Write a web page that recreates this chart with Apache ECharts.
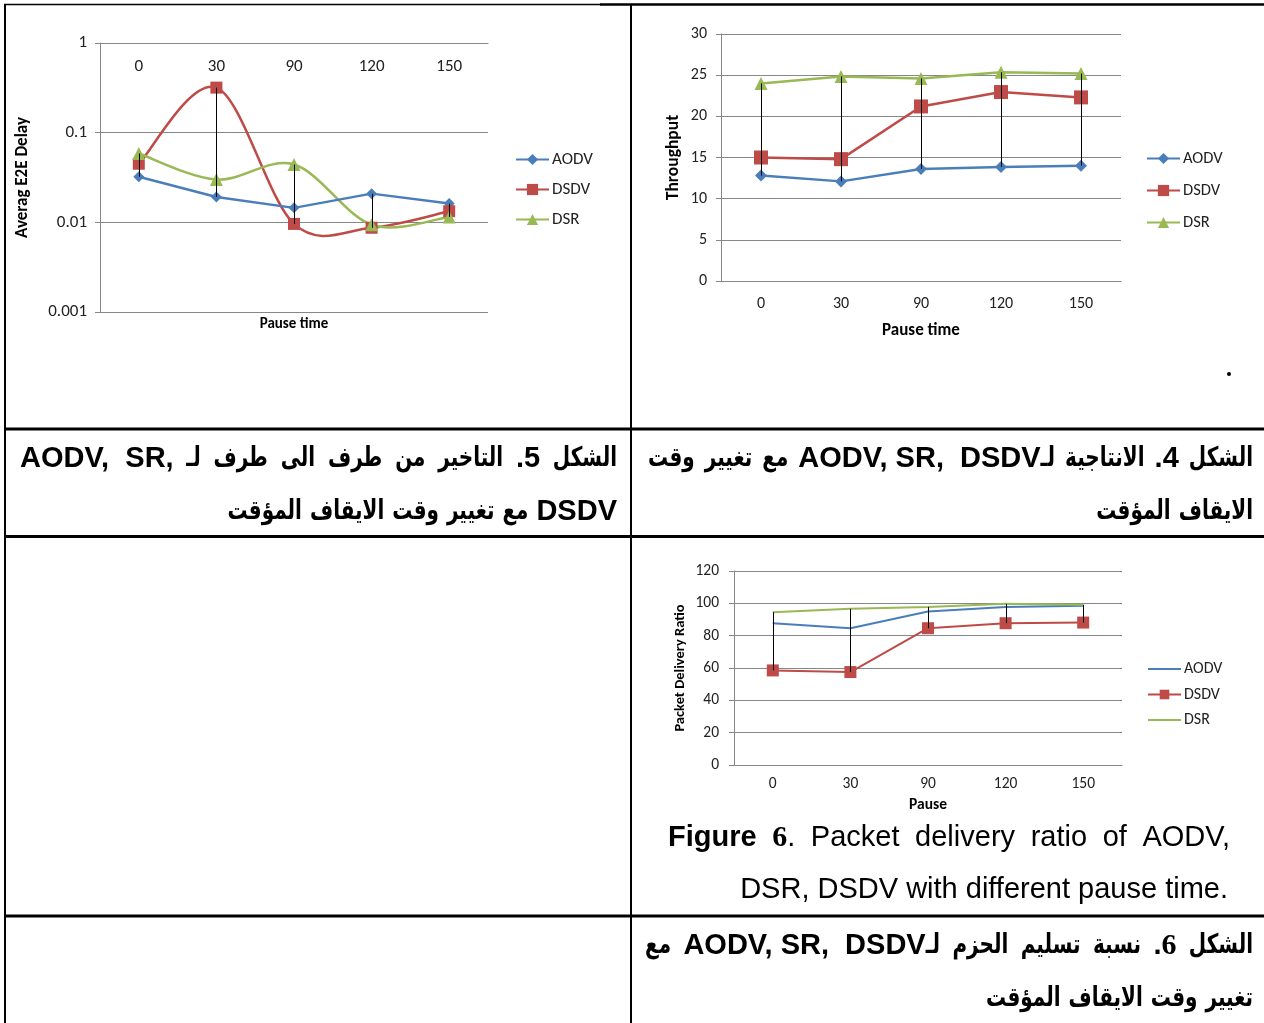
<!DOCTYPE html>
<html>
<head>
<meta charset="utf-8">
<script src="https://cdn.jsdelivr.net/npm/echarts@6/dist/echarts.min.js"></script>
<style>
  html, body { margin: 0; padding: 0; background: #fff; }
  #main { width: 1264px; height: 1023px; }
</style>
</head>
<body>
<div id="main"></div>
<script>
// ---- data ----
const pauseTimes = ['0', '30', '90', '120', '150'];
const protocols = ['AODV', 'DSDV', 'DSR'];

// Fig. 5: average end-to-end delay (log scale)
const delayAODV = [0.0322, 0.0192, 0.0145, 0.0209, 0.0162];
const delayDSDV = [0.045, 0.318, 0.0096, 0.0087, 0.0133];
const delayDSR  = [0.0586, 0.030, 0.0441, 0.0094, 0.0115];
const delayTicks = [0.001, 0.01, 0.1, 1];
const delayTickLabels = ['0.001', '0.01', '0.1', '1'];

// Fig. 4: throughput
const thrAODV = [12.8, 12.1, 13.6, 13.85, 14.0];
const thrDSDV = [15.0, 14.8, 21.2, 22.95, 22.3];
const thrDSR  = [24.0, 24.85, 24.6, 25.35, 25.2];

// Fig. 6: packet delivery ratio
const pdrAODV = [87.7, 84.6, 94.9, 97.7, 98.5];
const pdrDSDV = [58.5, 57.5, 84.6, 87.7, 88.1];
const pdrDSR  = [94.5, 96.6, 97.7, 99.7, 99.1];

// ---- styling ----
const C_AODV = '#4A7EBB', C_DSDV = '#BE4B48', C_DSR = '#98B954';
const GRIDC = '#878787';
const CF = 'Carlito, Lato, sans-serif';
const LB = 'bold 29px "Liberation Sans", Arial, sans-serif';
const LR = '29px "Liberation Sans", Arial, sans-serif';
const AF = 'bold 27px "DejaVu Sans", sans-serif';
const AR_SCALE = 0.74;
const SF = 'bold 30px "Liberation Serif", "DejaVu Serif", serif';
const rtl = s => '\u202B' + s + '\u202C';

// ---- caption layout ----
const mctx = document.createElement('canvas').getContext('2d');
function tw(t, font) { mctx.font = font; return mctx.measureText(t).width; }
// Arabic word, bold Latin, regular Latin, number inside Arabic text, serif digit
const A = (t, glue) => ({ t: rtl(t), font: AF, sx: AR_SCALE, glue: !!glue });
const B = (t, glue) => ({ t: t, font: LB, sx: 1, glue: !!glue });
const R = (t, glue) => ({ t: t, font: LR, sx: 1, glue: !!glue });
const N = (t, glue) => ({ t: rtl(t), font: LB, sx: 1, glue: !!glue });
const S = (t, glue) => ({ t: t, font: SF, sx: 1, glue: !!glue });

// Lays words out on one line; justified lines spread the gaps between xL and xR,
// others use a normal word space and hang from the reading-start edge.
function layoutLine(segs, xL, xR, y, isRtl, justify) {
  const ws = segs.map(s => tw(s.t, s.font) * s.sx);
  const total = ws.reduce((a, b) => a + b, 0);
  const nGaps = segs.filter((s, i) => i > 0 && !s.glue).length;
  const gap = justify ? (xR - xL - total) / nGaps : 8;
  const out = [];
  let x = isRtl ? xR : xL;
  segs.forEach((s, i) => {
    if (i > 0 && !s.glue) x += isRtl ? -gap : gap;
    out.push({ type: 'text', x: x, y: y, scaleX: s.sx,
      style: { text: s.t, font: s.font, fill: '#000',
        textAlign: isRtl ? 'right' : 'left', textVerticalAlign: 'middle' } });
    x += isRtl ? -ws[i] : ws[i];
  });
  return out;
}

// ---- table rules ----
const rules = [
  { type: 'line', shape: { x1: 4, y1: 4.5, x2: 601, y2: 4.5 }, style: { stroke: '#000', lineWidth: 1.5 } },
  { type: 'line', shape: { x1: 600, y1: 4.5, x2: 1264, y2: 4.5 }, style: { stroke: '#000', lineWidth: 2.5 } },
  { type: 'line', shape: { x1: 5, y1: 4, x2: 5, y2: 1023 }, style: { stroke: '#000', lineWidth: 2 } },
  { type: 'line', shape: { x1: 631, y1: 4, x2: 631, y2: 1023 }, style: { stroke: '#000', lineWidth: 2 } },
  { type: 'line', shape: { x1: 4, y1: 429, x2: 1264, y2: 429 }, style: { stroke: '#000', lineWidth: 3 } },
  { type: 'line', shape: { x1: 4, y1: 536.5, x2: 1264, y2: 536.5 }, style: { stroke: '#000', lineWidth: 3 } },
  { type: 'line', shape: { x1: 4, y1: 916, x2: 1264, y2: 916 }, style: { stroke: '#000', lineWidth: 3 } },
  { type: 'circle', shape: { cx: 1229, cy: 374, r: 2 }, style: { fill: '#000' } }
];

const captions = [].concat(
  // Fig. 5 caption
  layoutLine([A('الشكل'), N('5.'), A('التاخير'), A('من'), A('طرف'), A('الى'), A('طرف'), A('لـ'),
              B('AODV,  SR,')], 20, 617, 459, true, true),
  layoutLine([B('DSDV'), A('مع'), A('تغيير'), A('وقت'), A('الايقاف'), A('المؤقت')], 0, 617, 512, true, false),
  // Fig. 4 caption
  layoutLine([A('الشكل'), N('4.'), A('الانتاجية'), A('لـ'), B('AODV, SR,  DSDV', true),
              A('مع'), A('تغيير'), A('وقت')], 648, 1253, 459, true, true),
  layoutLine([A('الايقاف'), A('المؤقت')], 0, 1253, 512, true, false),
  // Fig. 6 English caption
  layoutLine([B('Figure'), S('6'), R('.', true), R('Packet'), R('delivery'), R('ratio'), R('of'), R('AODV,')],
             668, 1230, 838, false, true),
  [{ type: 'text', x: 1228, y: 890, style: { text: 'DSR, DSDV with different pause time.', font: LR,
     fill: '#000', textAlign: 'right', textVerticalAlign: 'middle' } }],
  // Fig. 6 Arabic caption
  layoutLine([A('الشكل'), S('6'), B('.', true), A('نسبة'), A('تسليم'), A('الحزم'), A('لـ'),
              B('AODV, SR,  DSDV', true), A('مع')], 645, 1253, 946, true, true),
  layoutLine([A('تغيير'), A('وقت'), A('الايقاف'), A('المؤقت')], 0, 1253, 999, true, false),
  // x-axis title of the delay chart (its category axis sits on top)
  [{ type: 'text', x: 294, y: 324, style: { text: 'Pause time', font: 'bold 15px ' + CF,
     fill: '#000', textAlign: 'center', textVerticalAlign: 'middle' } }]
);

// ---- high-low connector across the three protocols at each pause time ----
function hiLo(idx, arrays, name) {
  const data = pauseTimes.map((c, i) => {
    const v = arrays.map(a => a[i]);
    return [i, Math.min.apply(null, v), Math.max.apply(null, v)];
  });
  return {
    type: 'custom', name: name, xAxisIndex: idx, yAxisIndex: idx, z: 5, silent: true,
    data: data, encode: { x: 0, y: [1, 2] },
    renderItem: function (params, api) {
      const lo = api.coord([api.value(0), api.value(1)]);
      const hi = api.coord([api.value(0), api.value(2)]);
      const x = Math.round(lo[0]) + 0.5;
      return { type: 'line', shape: { x1: x, y1: lo[1], x2: x, y2: hi[1] },
               style: { stroke: '#000', lineWidth: 1 } };
    }
  };
}

// ---- smoothed curve (cubic Bezier, tangent = 1/6 of neighbour chord) ----
function smoothCurve(idx, values, color, name) {
  const n = values.length;
  return {
    type: 'custom', name: name, xAxisIndex: idx, yAxisIndex: idx, z: 2, silent: true,
    data: values.map((v, i) => [i, v]), encode: { x: 0, y: 1 },
    renderItem: function (params, api) {
      const i = params.dataIndex;
      if (i >= n - 1) return;
      const P = j => { const k = Math.max(0, Math.min(n - 1, j)); return api.coord([k, values[k]]); };
      const p0 = P(i - 1), p1 = P(i), p2 = P(i + 1), p3 = P(i + 2);
      return {
        type: 'bezierCurve',
        shape: { x1: p1[0], y1: p1[1], x2: p2[0], y2: p2[1],
                 cpx1: p1[0] + (p2[0] - p0[0]) / 6, cpy1: p1[1] + (p2[1] - p0[1]) / 6,
                 cpx2: p2[0] - (p3[0] - p1[0]) / 6, cpy2: p2[1] - (p3[1] - p1[1]) / 6 },
        style: { stroke: color, lineWidth: 2.5, fill: 'none' }
      };
    }
  };
}

function lineSeries(idx, proto, metric, data, color, extra) {
  return Object.assign({
    type: 'line', name: proto + ' ' + metric, xAxisIndex: idx, yAxisIndex: idx,
    data: data, z: 3,
    lineStyle: { color: color, width: 2.5 },
    itemStyle: { color: color },
    emphasis: { disabled: true }
  }, extra);
}

const catAxisBase = {
  type: 'category', data: pauseTimes, boundaryGap: true,
  axisLine: { lineStyle: { color: GRIDC, width: 1 } },
  axisTick: { show: false }
};
const valSplit = { lineStyle: { color: GRIDC, width: 1 } };

function legend(metric, left, top, gap, fontSize, itemH, dataItems) {
  return {
    orient: 'vertical', left: left, top: top, itemGap: gap, padding: 0,
    itemWidth: 33, itemHeight: itemH,
    data: dataItems || protocols.map(p => p + ' ' + metric),
    formatter: n => n.split(' ')[0],
    textStyle: { fontFamily: CF, fontSize: fontSize, color: '#222', lineHeight: itemH, padding: [0, 0, 0, -2] },
    selectedMode: false
  };
}

const option = {
  animation: false,
  backgroundColor: '#fff',
  grid: [
    { left: 100, top: 43, width: 388, height: 269 },
    { left: 721, top: 34, width: 400, height: 247 },
    { left: 734, top: 571, width: 388, height: 194 }
  ],
  xAxis: [
    Object.assign({}, catAxisBase, { gridIndex: 0, position: 'top',
      axisLabel: { inside: true, margin: 15, fontFamily: CF, fontSize: 17, color: '#222' } }),
    Object.assign({}, catAxisBase, { gridIndex: 1,
      axisLabel: { margin: 15, fontFamily: CF, fontSize: 16, color: '#222' },
      name: 'Pause time', nameLocation: 'middle', nameGap: 41,
      nameTextStyle: { fontFamily: CF, fontSize: 17, fontWeight: 'bold', color: '#000' } }),
    Object.assign({}, catAxisBase, { gridIndex: 2,
      axisLabel: { margin: 11, fontFamily: CF, fontSize: 15.5, color: '#222' },
      name: 'Pause', nameLocation: 'middle', nameGap: 32,
      nameTextStyle: { fontFamily: CF, fontSize: 15.5, fontWeight: 'bold', color: '#000' } })
  ],
  yAxis: [
    { type: 'log', gridIndex: 0, logBase: 10, min: delayTicks[0], max: delayTicks[delayTicks.length - 1],
      axisLine: { show: true, lineStyle: { color: GRIDC } },
      axisTick: { show: true, length: 5, lineStyle: { color: GRIDC } },
      splitLine: valSplit,
      axisLabel: { margin: 13, fontFamily: CF, fontSize: 17, color: '#222',
        formatter: v => {
          let best = 0;
          delayTicks.forEach((t, i) => {
            if (Math.abs(Math.log10(t) - Math.log10(v)) < Math.abs(Math.log10(delayTicks[best]) - Math.log10(v))) best = i;
          });
          return delayTickLabels[best];
        } },
      name: 'Averag E2E Delay', nameLocation: 'middle', nameGap: 69, nameRotate: 90,
      nameTextStyle: { fontFamily: CF, fontSize: 17, fontWeight: 'bold', color: '#000' } },
    { type: 'value', gridIndex: 1, min: 0, max: 30, interval: 5,
      axisLine: { show: true, lineStyle: { color: GRIDC } },
      axisTick: { show: true, length: 5, lineStyle: { color: GRIDC } },
      splitLine: valSplit,
      axisLabel: { margin: 14, fontFamily: CF, fontSize: 16, color: '#222' },
      name: 'Throughput', nameLocation: 'middle', nameGap: 38, nameRotate: 90,
      nameTextStyle: { fontFamily: CF, fontSize: 17.5, fontWeight: 'bold', color: '#000' } },
    { type: 'value', gridIndex: 2, min: 0, max: 120, interval: 20,
      axisLine: { show: true, lineStyle: { color: GRIDC } },
      axisTick: { show: true, length: 5, lineStyle: { color: GRIDC } },
      splitLine: valSplit,
      axisLabel: { margin: 15, fontFamily: CF, fontSize: 15.5, color: '#222' },
      name: 'Packet Delivery Ratio', nameLocation: 'middle', nameGap: 46, nameRotate: 90,
      nameTextStyle: { fontFamily: CF, fontSize: 14.5, fontWeight: 'bold', color: '#000' } }
  ],
  legend: [
    legend('delay', 515, 151, 13, 17, 14, [
      'AODV delay',
      { name: 'DSDV delay', lineStyle: { opacity: 1 } },
      { name: 'DSR delay', lineStyle: { opacity: 1 } }
    ]),
    legend('throughput', 1146, 150, 15, 16.5, 14),
    legend('pdr', 1147, 661, 9.5, 16, 12, [
      { name: 'AODV pdr', itemStyle: { opacity: 0 } },
      'DSDV pdr',
      { name: 'DSR pdr', itemStyle: { opacity: 0 } }
    ])
  ],
  series: [
    // end-to-end delay
    smoothCurve(0, delayDSDV, C_DSDV, 'DSDV delay curve'),
    smoothCurve(0, delayDSR, C_DSR, 'DSR delay curve'),
    lineSeries(0, 'AODV', 'delay', delayAODV, C_AODV, { symbol: 'diamond', symbolSize: 11 }),
    lineSeries(0, 'DSDV', 'delay', delayDSDV, C_DSDV, { symbol: 'rect', symbolSize: 12,
      lineStyle: { color: C_DSDV, width: 2.5, opacity: 0 } }),
    lineSeries(0, 'DSR', 'delay', delayDSR, C_DSR, { symbol: 'triangle', symbolSize: 13,
      lineStyle: { color: C_DSR, width: 2.5, opacity: 0 } }),
    hiLo(0, [delayAODV, delayDSDV, delayDSR], 'delay range'),
    // throughput
    lineSeries(1, 'AODV', 'throughput', thrAODV, C_AODV, { symbol: 'diamond', symbolSize: 12 }),
    lineSeries(1, 'DSDV', 'throughput', thrDSDV, C_DSDV, { symbol: 'rect', symbolSize: 14 }),
    lineSeries(1, 'DSR', 'throughput', thrDSR, C_DSR, { symbol: 'triangle', symbolSize: 13 }),
    hiLo(1, [thrAODV, thrDSDV, thrDSR], 'throughput range'),
    // packet delivery ratio
    lineSeries(2, 'AODV', 'pdr', pdrAODV, C_AODV, { symbol: 'none', lineStyle: { color: C_AODV, width: 2 } }),
    lineSeries(2, 'DSDV', 'pdr', pdrDSDV, C_DSDV, { symbol: 'rect', symbolSize: 12, lineStyle: { color: C_DSDV, width: 2 } }),
    lineSeries(2, 'DSR', 'pdr', pdrDSR, C_DSR, { symbol: 'none', lineStyle: { color: C_DSR, width: 2 } }),
    hiLo(2, [pdrAODV, pdrDSDV, pdrDSR], 'pdr range')
  ],
  graphic: { elements: rules.concat(captions) }
};

const chart = echarts.init(document.getElementById('main'), null, { renderer: 'canvas' });
chart.setOption(option);
</script>
</body>
</html>
